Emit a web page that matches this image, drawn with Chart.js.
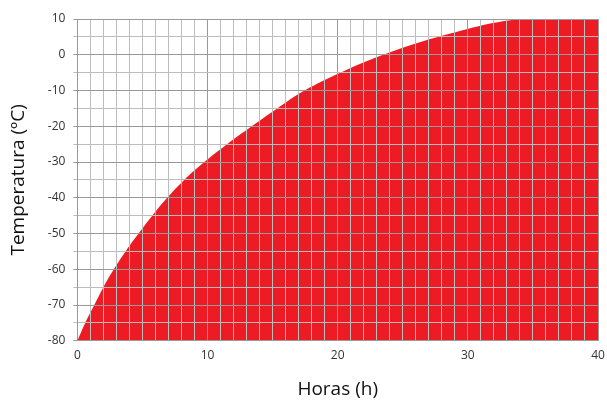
<!DOCTYPE html>
<html>
<head>
<meta charset="utf-8">
<script src="https://cdn.jsdelivr.net/npm/chart.js@4.4.1/dist/chart.umd.min.js"></script>
<style>
  html, body { margin: 0; padding: 0; background: #fff; }
  #wrap { width: 607px; height: 401px; }
</style>
</head>
<body>
<div id="wrap"><canvas id="tempChart"></canvas></div>
<script>
// --- Curva de temperatura ---
const horas = [0, 0.6, 1.3, 2.0, 2.8, 3.7, 4.7, 5.75, 6.9, 8.2, 9.75, 11.5, 13.4, 15.35, 17.45, 20.2, 23.5, 27.7, 34.0, 40];
const temperaturas = [-80, -75, -70, -65, -60, -55, -50, -45, -40, -35, -30, -25, -20, -15, -10, -5, 0, 5, 10, 10];
const ticksX = [0, 10, 20, 30, 40];
const ticksY = [10, 0, -10, -20, -30, -40, -50, -60, -70, -80];

const rojo = '#ED1C24';
const gridMenor = '#bdbdbd';
const gridMayor = '#999999';

document.addEventListener('DOMContentLoaded', () => {
    const ctx = document.getElementById('tempChart').getContext('2d');
    const puntos = horas.map((h, i) => ({ x: h, y: temperaturas[i] }));

    new Chart(ctx, {
        type: 'line',
        data: {
            datasets: [{
                data: puntos,
                fill: 'start',
                backgroundColor: rojo,
                borderColor: rojo,
                borderWidth: 0,
                pointRadius: 0,
                tension: 0.4
            }]
        },
        options: {
            responsive: true,
            maintainAspectRatio: false,
            animation: false,
            layout: { padding: { top: 19, right: 9, left: 7, bottom: 0 } },
            plugins: { legend: { display: false }, tooltip: { enabled: false } },
            scales: {
                x: {
                    type: 'linear',
                    min: 0, max: 40,
                    // la etiqueta "40" puede salir del área, como en el original
                    afterFit: s => { s.paddingRight = 0; },
                    border: { display: true, color: gridMayor, z: 1 },
                    grid: {
                        z: 1,
                        drawTicks: false,
                        color: c => (c.tick && c.tick.value % 10 === 0) ? gridMayor : gridMenor
                    },
                    ticks: {
                        stepSize: 1,
                        autoSkip: false,
                        maxRotation: 0,
                        padding: 8,
                        color: '#333',
                        font: { family: 'Open Sans', size: 12 },
                        callback: v => ticksX.includes(v) ? v : ''
                    },
                    title: {
                        display: true,
                        text: 'Horas (h)',
                        color: '#111',
                        font: { family: 'Open Sans', size: 19 },
                        padding: { top: 7, bottom: 0 }
                    }
                },
                y: {
                    min: -80, max: 10,
                    border: { display: true, color: gridMayor, z: 1 },
                    grid: {
                        z: 1,
                        tickLength: 4,
                        color: c => (c.tick && c.tick.value % 10 === 0) ? gridMayor : gridMenor
                    },
                    ticks: {
                        stepSize: 5,
                        autoSkip: false,
                        padding: 8,
                        color: '#333',
                        font: { family: 'Open Sans', size: 12 },
                        callback: v => ticksY.includes(v) ? v : ''
                    },
                    title: {
                        display: true,
                        text: 'Temperatura (ºC)',
                        color: '#111',
                        font: { family: 'Open Sans', size: 19 },
                        padding: { top: 0, bottom: 10 }
                    }
                }
            }
        }
    });
});
</script>
</body>
</html>
